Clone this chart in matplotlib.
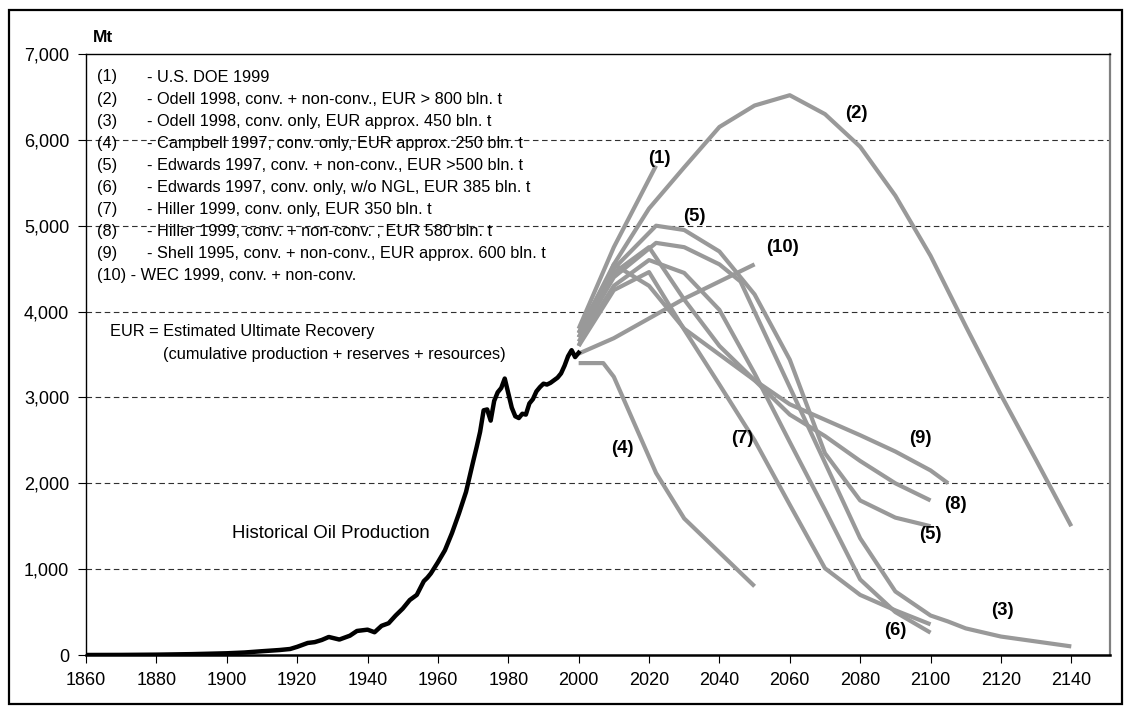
import matplotlib
matplotlib.use("Agg")
import matplotlib.pyplot as plt
from matplotlib.patches import Rectangle
from matplotlib.ticker import FuncFormatter

plt.rcParams['font.family'] = ['Liberation Sans', 'DejaVu Sans']

# ---------------- data ----------------
hist_years = [1860, 1870, 1880, 1890, 1900, 1905, 1910, 1915, 1918, 1920, 1923, 1925, 1927,
              1929, 1932, 1935, 1937, 1940, 1942, 1944, 1946, 1948, 1950, 1952, 1954, 1956,
              1957, 1958, 1960, 1962, 1964, 1966, 1968, 1970, 1971, 1972, 1973, 1974, 1975,
              1976, 1977, 1978, 1979, 1980, 1981, 1982, 1983, 1984, 1985, 1986, 1987, 1988,
              1989, 1990, 1991, 1992, 1993, 1994, 1995, 1996, 1997, 1998, 1999, 2000]
hist_vals = [0.1, 1, 4, 10, 20, 29, 44, 58, 70, 95, 140, 150, 175,
             210, 180, 225, 280, 295, 265, 340, 370, 460, 540, 640, 700, 860,
             900, 950, 1080, 1220, 1420, 1650, 1900, 2250, 2420, 2600, 2850, 2860, 2730,
             2960, 3060, 3110, 3220, 3050, 2880, 2780, 2760, 2810, 2800, 2930, 2980, 3070,
             3120, 3160, 3150, 3170, 3200, 3230, 3280, 3370, 3480, 3550, 3470, 3520]

p1_years = [2000, 2010, 2022]
p1_vals = [3800, 4750, 5700]
p2_years = [2000, 2010, 2020, 2030, 2040, 2050, 2060, 2070, 2080, 2090, 2100, 2110, 2120, 2130, 2140]
p2_vals = [3750, 4550, 5200, 5680, 6150, 6400, 6520, 6300, 5920, 5350, 4650, 3830, 3030, 2270, 1500]
p3_years = [2000, 2010, 2022, 2030, 2040, 2046, 2060, 2070, 2080, 2090, 2100, 2105, 2110, 2120, 2140]
p3_vals = [3700, 4400, 4800, 4750, 4550, 4350, 3120, 2240, 1360, 740, 460, 390, 310, 215, 100]
p4_years = [2000, 2007, 2010, 2022, 2030, 2050]
p4_vals = [3400, 3400, 3240, 2120, 1590, 800]
p5_years = [2000, 2010, 2022, 2030, 2040, 2050, 2060, 2070, 2080, 2090, 2100]
p5_vals = [3750, 4500, 5000, 4950, 4700, 4200, 3440, 2350, 1800, 1600, 1500]
p6_years = [2000, 2010, 2020, 2030, 2040, 2050, 2060, 2070, 2080, 2090, 2100]
p6_vals = [3650, 4300, 4600, 4450, 4020, 3280, 2480, 1690, 880, 500, 260]
p7_years = [2000, 2010, 2020, 2030, 2040, 2050, 2060, 2070, 2080, 2090, 2100]
p7_vals = [3600, 4250, 4460, 3790, 3150, 2500, 1750, 1010, 700, 520, 357]
p8_years = [2000, 2010, 2020, 2030, 2040, 2050, 2060, 2070, 2080, 2090, 2100]
p8_vals = [3700, 4450, 4750, 4140, 3600, 3200, 2800, 2550, 2260, 2000, 1800]
p9_years = [2000, 2010, 2020, 2030, 2040, 2050, 2060, 2070, 2080, 2090, 2100, 2105]
p9_vals = [3600, 4550, 4300, 3800, 3500, 3200, 2920, 2740, 2560, 2370, 2150, 2000]
p10_years = [2000, 2010, 2020, 2030, 2040, 2050]
p10_vals = [3510, 3690, 3920, 4150, 4350, 4550]

proj_years = [p1_years, p2_years, p3_years, p4_years, p5_years, p6_years, p7_years,
              p8_years, p9_years, p10_years]
proj_vals = [p1_vals, p2_vals, p3_vals, p4_vals, p5_vals, p6_vals, p7_vals,
             p8_vals, p9_vals, p10_vals]

# curve label texts and anchor (year, value)
curve_labels = ["(1)", "(2)", "(3)", "(4)", "(5)", "(5)", "(6)", "(7)", "(8)", "(9)", "(10)"]
curve_label_x = [2023, 2079, 2120.5, 2012.5, 2033, 2100, 2090, 2046.5, 2107, 2097, 2058]
curve_label_y = [5780, 6310, 520, 2400, 5110, 1400, 290, 2520, 1750, 2520, 4750]

legend_nums = ["(1)", "(2)", "(3)", "(4)", "(5)", "(6)", "(7)", "(8)", "(9)"]
legend_texts = ["- U.S. DOE 1999",
                "- Odell 1998, conv. + non-conv., EUR > 800 bln. t",
                "- Odell 1998, conv. only, EUR approx. 450 bln. t",
                "- Campbell 1997, conv. only, EUR approx. 250 bln. t",
                "- Edwards 1997, conv. + non-conv., EUR >500 bln. t",
                "- Edwards 1997, conv. only, w/o NGL, EUR 385 bln. t",
                "- Hiller 1999, conv. only, EUR 350 bln. t",
                "- Hiller 1999, conv. + non-conv. , EUR 580 bln. t",
                "- Shell 1995, conv. + non-conv., EUR approx. 600 bln. t"]
legend_last = "(10) - WEC 1999, conv. + non-conv."

x_ticks = list(range(1860, 2141, 20))
y_ticks = list(range(0, 7001, 1000))

# ---------------- figure ----------------
W, H = 1129, 709
fig = plt.figure(figsize=(W / 100, H / 100), dpi=100)
fig.patch.set_facecolor('white')

L, R, T, B = 86, 1110, 54, 655
ax = fig.add_axes([L / W, 1 - B / H, (R - L) / W, (B - T) / H])
ax.set_xlim(1860, 2151)
ax.set_ylim(0, 7000)

for yv in y_ticks[1:-1]:
    ax.axhline(yv, color='#303030', lw=0.8, linestyle=(0, (5, 3.2)), zorder=1)

for yrs, vals in zip(proj_years, proj_vals):
    ax.plot(yrs, vals, color='#999999', lw=3.0, solid_joinstyle='round',
            solid_capstyle='butt', zorder=2)

ax.plot(hist_years, hist_vals, color='black', lw=3.2, solid_joinstyle='round', zorder=3)

for t, xv, yv in zip(curve_labels, curve_label_x, curve_label_y):
    ax.text(xv, yv, t, fontsize=13.3, fontweight='bold', ha='center', va='center', zorder=4)

ax.set_xticks(x_ticks)
ax.set_yticks(y_ticks)
ax.yaxis.set_major_formatter(FuncFormatter(lambda v, p: f"{int(v):,}"))
ax.tick_params(axis='both', direction='out', length=6, width=0.8, labelsize=13,
               color='black')
ax.tick_params(axis='x', pad=6)
ax.tick_params(axis='y', pad=6)

for s in ['left', 'top']:
    ax.spines[s].set_linewidth(1.0)
    ax.spines[s].set_color('black')
ax.spines['bottom'].set_linewidth(1.8)
ax.spines['bottom'].set_color('black')
ax.spines['right'].set_linewidth(1.6)
ax.spines['right'].set_color('#808080')

# texts in pixel positions
def ftext(x, y, s, **kw):
    fig.text(x / W, 1 - y / H, s, va='center', **kw)

ftext(93, 38, "Mt", fontsize=12.5, fontweight='bold')
row_y0, row_dy = 77, 22.1
for i, (n, t) in enumerate(zip(legend_nums, legend_texts)):
    yy = row_y0 + i * row_dy
    ftext(97, yy, n, fontsize=11.8)
    ftext(147, yy, t, fontsize=11.8)
ftext(97, row_y0 + 9 * row_dy, legend_last, fontsize=11.8)

ftext(110, 332, "EUR = Estimated Ultimate Recovery", fontsize=11.8)
ftext(163, 354, "(cumulative production + reserves + resources)", fontsize=11.8)
ftext(232, 534, "Historical Oil Production", fontsize=13.4)

# outer border
fig.patches.append(Rectangle((9 / W, 1 - 704 / H), (1122 - 9) / W, (704 - 10) / H,
                             transform=fig.transFigure, fill=False, edgecolor='black',
                             linewidth=1.6))

fig.savefig("out.png", dpi=100)
